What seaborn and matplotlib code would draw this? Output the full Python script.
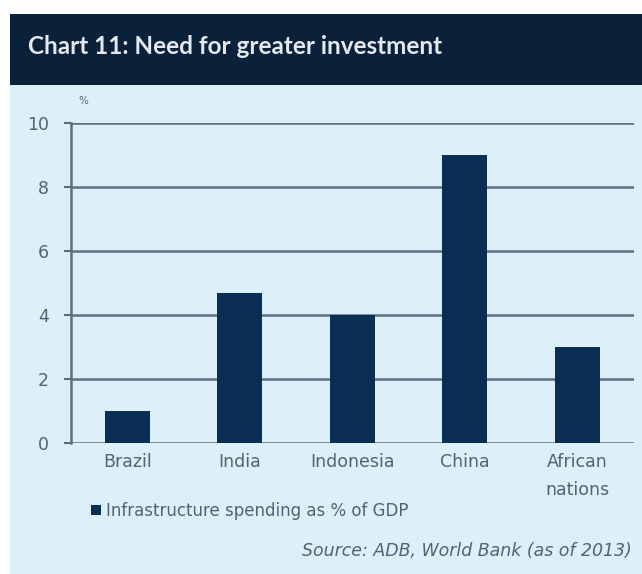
import matplotlib
matplotlib.use("Agg")
import matplotlib.pyplot as plt
from matplotlib.patches import Rectangle
import seaborn as sns
import pandas as pd

# Data
categories = ["Brazil", "India", "Indonesia", "China", "African\nnations"]
spending_pct_gdp = [1.0, 4.7, 4.0, 9.0, 3.0]
y_ticks = [0, 2, 4, 6, 8, 10]
series_label = "Infrastructure spending as % of GDP"
title_text = "Chart 11: Need for greater investment"
source_text = "Source: ADB, World Bank (as of 2013)"

NAVY = "#0b2f52"
HEADER = "#0a2139"
PANEL = "#dcf0fa"
GRID = "#5d6f7d"
TEXT = "#56626c"

sns.set_theme(style="white")
plt.rcParams["font.family"] = ["DejaVu Sans"]

W, H = 642, 574
fig = plt.figure(figsize=(W / 100, H / 100), dpi=100, facecolor="white")

# Light panel and dark header band
fig.patches.append(Rectangle((10 / W, 0), 1 - 10 / W, 1 - 85 / H,
                             transform=fig.transFigure, facecolor=PANEL,
                             edgecolor="none", zorder=-2))
fig.patches.append(Rectangle((10 / W, 1 - 85 / H), 1 - 10 / W, 71 / H,
                             transform=fig.transFigure, facecolor=HEADER,
                             edgecolor="none", zorder=-2))
fig.text(28 / W, 1 - 47 / H, title_text, color="#e3e9ee", fontsize=17.5,
         fontweight="bold", va="center", ha="left",
         family=["Lato", "DejaVu Sans"])

ax = fig.add_axes([71 / W, 1 - 443 / H, (633.5 - 71) / W, (443 - 123) / H])
ax.set_zorder(1)
ax.set_facecolor("none")

df = pd.DataFrame({"country": categories, "value": spending_pct_gdp})
sns.barplot(data=df, x="country", y="value", color=NAVY, width=0.4,
            saturation=1, ax=ax, label=series_label, zorder=3,
            edgecolor=NAVY, linewidth=0)

ax.set_xlim(-0.5, len(categories) - 0.5)
ax.set_ylim(0, 10)
ax.set_yticks(y_ticks)
ax.set_yticklabels([str(t) for t in y_ticks])
ax.set_xlabel("")
ax.set_ylabel("")

for t in y_ticks:
    ax.axhline(t, color=GRID, lw=1.8, zorder=1)

for side in ["top", "right", "bottom"]:
    ax.spines[side].set_visible(False)
ax.spines["left"].set_color(GRID)
ax.spines["left"].set_linewidth(1.8)

ax.tick_params(axis="y", length=5, width=1.5, color=GRID, labelsize=12.5,
               labelcolor=TEXT, pad=11, left=True)
ax.tick_params(axis="x", length=0, labelsize=12.5, labelcolor=TEXT, pad=7)
for lbl in ax.get_xticklabels():
    lbl.set_linespacing(1.75)

ax.text(78 / W, 1 - 101 / H, "%", transform=fig.transFigure, fontsize=7.5,
        color=TEXT, ha="left", va="center")

leg = ax.legend(loc="center left", bbox_to_anchor=(83 / W, 1 - 511 / H),
                bbox_transform=fig.transFigure, frameon=False, fontsize=12,
                handlelength=0.6, handleheight=0.6, handletextpad=0.3,
                labelcolor=TEXT, borderpad=0)

fig.text(632 / W, 1 - 551 / H, source_text, color=TEXT, fontsize=12.5,
         style="italic", ha="right", va="center")

fig.savefig("out.png", dpi=100, facecolor="white")
